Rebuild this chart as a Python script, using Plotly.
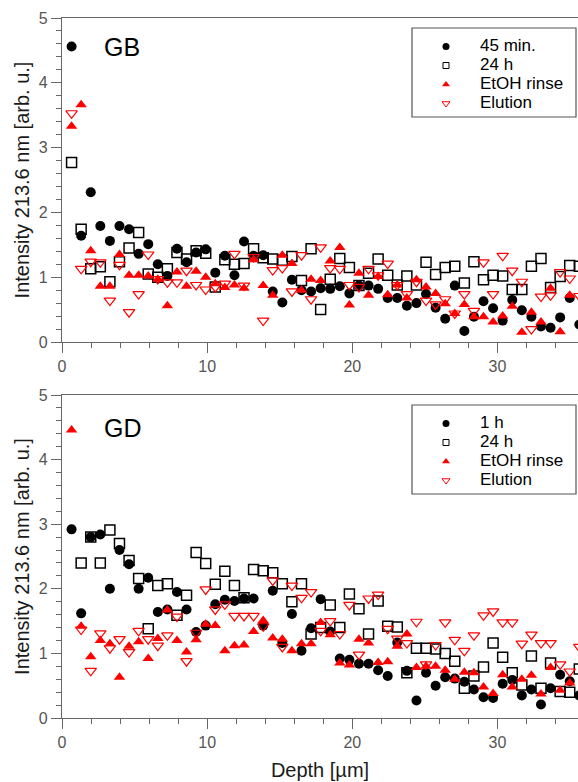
import plotly.graph_objects as go
from plotly.subplots import make_subplots

# Sputter depth (µm) of each measurement point
depth = [0.66, 1.32, 1.98, 2.64, 3.30, 3.96, 4.62, 5.28, 5.94, 6.60,
         7.26, 7.92, 8.58, 9.24, 9.90, 10.56, 11.22, 11.88, 12.54, 13.20,
         13.86, 14.52, 15.18, 15.84, 16.50, 17.16, 17.82, 18.48, 19.14, 19.80,
         20.46, 21.12, 21.78, 22.44, 23.10, 23.76, 24.42, 25.08, 25.74, 26.40,
         27.06, 27.72, 28.38, 29.04, 29.70, 30.36, 31.02, 31.68, 32.34, 33.00,
         33.66, 34.32, 34.98, 35.64]

# GB sample: intensity at 213.6 nm
gb_45min = [4.56, 1.64, 2.31, 1.79, 1.56, 1.79, 1.74, 1.36, 1.51, 1.20,
            1.02, 1.44, 1.23, 1.38, 1.43, 1.07, 1.33, 1.03, 1.55, 1.33,
            1.34, 0.78, 0.61, 0.96, 0.80, 0.78, 0.83, 0.82, 0.86, 0.75,
            0.87, 0.87, 0.82, 0.68, 0.68, 0.56, 0.60, 0.74, 0.53, 0.36,
            0.87, 0.17, 0.39, 0.63, 0.52, 0.33, 0.65, 0.49, 0.39, 0.24,
            0.22, 0.38, 0.68, 0.27]
gb_24h = [2.77, 1.74, 1.13, 1.16, 0.93, 1.24, 1.45, 1.69, 1.05, 1.00,
          1.13, 1.38, 1.28, 1.41, 1.37, 0.85, 1.27, 1.20, 1.21, 1.44,
          1.30, 1.28, 1.26, 1.32, 0.95, 1.44, 0.50, 0.97, 1.29, 1.15,
          0.87, 1.06, 1.28, 1.03, 0.88, 1.02, 0.88, 1.23, 1.04, 1.15,
          1.17, 0.91, 1.24, 0.96, 1.03, 1.02, 0.81, 0.81, 1.17, 1.29,
          0.84, 1.01, 1.18, 1.17]
gb_etoh = [3.33, 3.66, 1.41, 0.86, 0.86, 1.35, 1.03, 1.03, 1.02, 0.97,
           0.56, 1.08, 0.86, 1.09, 1.00, 0.90, 0.84, 0.88, 0.83, 1.27,
           0.87, 0.72, 1.34, 1.21, 0.80, 0.97, 0.95, 1.25, 1.46, 0.57,
           1.06, 0.72, 1.01, 0.73, 0.88, 0.68, 0.96, 0.85, 0.75, 0.59,
           0.44, 0.58, 0.39, 0.39, 0.31, 0.40, 0.55, 0.15, 0.46, 0.31,
           0.83, 0.16, 0.72, None]
gb_elution = [3.53, 1.13, 1.24, 1.23, 0.64, 1.19, 0.46, 0.74, 1.35, 0.97,
              0.92, 0.92, 1.10, 0.88, 0.81, 0.85, 0.90, 1.36, 0.87, 1.31,
              0.33, 1.11, 1.14, 0.78, 1.34, 0.66, 1.46, 1.14, 1.13, 0.88,
              0.85, 1.13, 1.03, 1.21, 0.88, 0.74, 0.93, 0.64, 0.58, 0.66,
              0.44, 0.74, 0.48, 1.23, 0.74, 1.33, 1.10, 0.93, 0.20, 0.70,
              0.72, 1.08, 0.98, 0.71]

# GD sample: intensity at 213.6 nm
gd_1h = [2.92, 1.62, 2.80, 2.84, 2.00, 2.60, 2.38, 2.00, 2.17, 1.64,
         1.68, 1.95, 1.68, 1.33, 1.43, 1.76, 1.83, 1.81, 1.85, 1.85,
         1.43, 1.97, 1.16, 1.61, 1.04, 1.39, 1.84, 1.34, 0.92, 0.90,
         0.84, 0.84, 0.74, 0.65, 1.17, 0.73, 0.27, 0.70, 0.50, 0.63,
         0.61, 0.56, 0.44, 0.32, 0.31, 0.53, 0.59, 0.35, 0.44, 0.21,
         0.46, 0.67, 0.57, 0.35]
gd_24h = [None, 2.40, 2.80, 2.40, 2.91, 2.70, 2.44, 2.16, 1.38, 2.05,
          2.08, 1.59, 1.90, 2.56, 2.39, 2.07, 2.27, 2.05, 1.86, 2.30,
          2.28, 2.25, 2.08, 1.80, 2.08, 1.30, 1.40, 1.75, 1.40, 1.92,
          1.69, 1.30, 1.81, 1.42, 1.41, 0.70, 1.08, 1.08, 1.07, 1.00,
          0.88, 0.46, 0.65, 0.79, 1.16, 0.94, 0.70, 0.51, 0.96, 0.46,
          0.85, 0.41, 0.40, 0.76]
gd_etoh = [4.46, 1.42, 0.95, 1.20, 1.15, 0.63, 1.11, 1.18, 0.92, 1.23,
           1.67, 1.20, 1.02, 1.21, 1.45, 1.43, 1.04, 1.12, 1.13, 1.34,
           1.51, 1.24, 1.22, 1.04, 1.15, 1.15, 1.48, 1.29, 0.85, 0.82,
           1.22, 1.16, 0.86, 0.87, 1.11, 1.30, 0.78, 0.80, 0.80, 0.74,
           0.60, 0.71, 0.70, 0.48, 0.38, 0.67, 0.48, 0.60, 0.66, 0.37,
           0.78, 0.43, 0.54, None]
gd_elution = [None, 1.37, 0.73, 1.31, 1.08, 1.22, 1.02, 1.35, 1.22, 1.12,
              1.28, 1.57, 0.88, 1.32, 1.99, 1.68, 1.76, 1.58, 1.58, 1.58,
              1.42, 2.13, 1.10, 2.05, 1.86, 1.95, 1.35, 1.50, 1.30, 1.75,
              0.98, 1.85, 1.91, 1.38, 1.23, 1.16, 1.49, 0.83, 1.13, 1.48,
              1.21, 1.04, 1.28, 1.59, 1.65, 1.48, 1.48, 1.15, 1.29, 1.16,
              1.16, 0.83, 0.72, 1.10]

panels = [
    ("GB", [("45 min.", gb_45min), ("24 h", gb_24h),
            ("EtOH rinse", gb_etoh), ("Elution", gb_elution)]),
    ("GD", [("1 h", gd_1h), ("24 h", gd_24h),
            ("EtOH rinse", gd_etoh), ("Elution", gd_elution)]),
]

RED = "#ff0000"
# (symbol, colour, outline width, size in plot, size in legend)
styles = [
    ("circle", "black", 0, 10, 7),
    ("square-open", "black", 1.5, 10, 6),
    ("triangle-up", RED, 0, 10, 7),
    ("triangle-down-open", RED, 1.2, 10, 7),
]

FONT = "Liberation Sans, Arial, sans-serif"
W, H = 578, 782
ML, MR, MT, MB = 62, 0, 18, 64
plot_h = H - MT - MB

top_domain = [(718 - 342) / plot_h, 1.0]
bot_domain = [0.0, (718 - 395) / plot_h]

fig = make_subplots(rows=2, cols=1, shared_xaxes=False, vertical_spacing=0.05)


def marker(symbol, color, lw, size):
    m = dict(symbol=symbol, color=color, size=size)
    if lw:
        m["line"] = dict(width=lw, color=color)
    return m


for row, (label, series) in enumerate(panels, start=1):
    legend_name = "legend" if row == 1 else "legend2"
    for (name, values), (sym, col, lw, s_plot, s_leg) in zip(series, styles):
        fig.add_trace(
            go.Scatter(x=depth, y=values, mode="markers", name=name,
                       marker=marker(sym, col, lw, s_plot), showlegend=False),
            row=row, col=1,
        )
        # legend entry with a smaller symbol
        fig.add_trace(
            go.Scatter(x=[None], y=[None], mode="markers",
                       name='<span style="font-size:17px">%s</span>' % name,
                       marker=marker(sym, col, min(lw, 1.0), s_leg), legend=legend_name),
            row=row, col=1,
        )

axis_common = dict(
    showline=True, linecolor="#666666", linewidth=1.2,
    ticks="outside", tickcolor="#666666", tickwidth=1.2,
    tickfont=dict(family=FONT, size=16, color="#555555"),
    showgrid=False, zeroline=False,
)

for row in (1, 2):
    fig.update_xaxes(
        range=[0, 35.55], dtick=10, tick0=0, ticklen=10, mirror=True,
        minor=dict(dtick=2, ticklen=5, ticks="outside", tickcolor="#666666", tickwidth=1.2),
        row=row, col=1, **axis_common,
    )
    fig.update_yaxes(
        range=[0, 5], dtick=1, tick0=0, ticklen=10,
        minor=dict(dtick=0.2, ticklen=5, ticks="outside", tickcolor="#666666", tickwidth=1.2),
        title=dict(text="Intensity 213.6 nm [arb. u.]",
                   font=dict(family=FONT, size=20, color="#1a1a1a"), standoff=3),
        row=row, col=1, **axis_common,
    )

fig.update_yaxes(domain=top_domain, row=1, col=1)
fig.update_yaxes(domain=bot_domain, row=2, col=1)
fig.update_xaxes(
    title=dict(text="Depth [µm]", font=dict(family=FONT, size=20, color="#1a1a1a"), standoff=12),
    row=2, col=1,
)

# Sample labels
fig.add_annotation(text="GB", x=2.75, y=4.55, xref="x", yref="y", xanchor="left",
                   showarrow=False, font=dict(family=FONT, size=25, color="black"))
fig.add_annotation(text="GD", x=2.75, y=4.49, xref="x2", yref="y2", xanchor="left",
                   showarrow=False, font=dict(family=FONT, size=25, color="black"))


def py(pix):
    return (718 - pix) / plot_h


def px(pix):
    return (pix - ML) / (W - ML - MR)


# Legend frames
for top, bottom in ((28, 117), (405, 494)):
    fig.add_shape(type="rect", xref="paper", yref="paper",
                  x0=px(412), x1=px(576), y0=py(bottom), y1=py(top),
                  line=dict(color="#555555", width=1.2), fillcolor="white", layer="below")

# base font chosen so each legend row is 19 px tall
legend_common = dict(
    xanchor="left", yanchor="top", bgcolor="rgba(0,0,0,0)", borderwidth=0,
    font=dict(family=FONT, size=16 / 1.3, color="black"), itemwidth=58,
    tracegroupgap=0,
)
fig.update_layout(
    width=W, height=H,
    margin=dict(l=ML, r=MR, t=MT, b=MB),
    paper_bgcolor="white", plot_bgcolor="white",
    showlegend=True,
    legend=dict(x=px(412), y=py(32), **legend_common),
    legend2=dict(x=px(412), y=py(409), **legend_common),
    font=dict(family=FONT),
)

fig.write_html("out.html")
